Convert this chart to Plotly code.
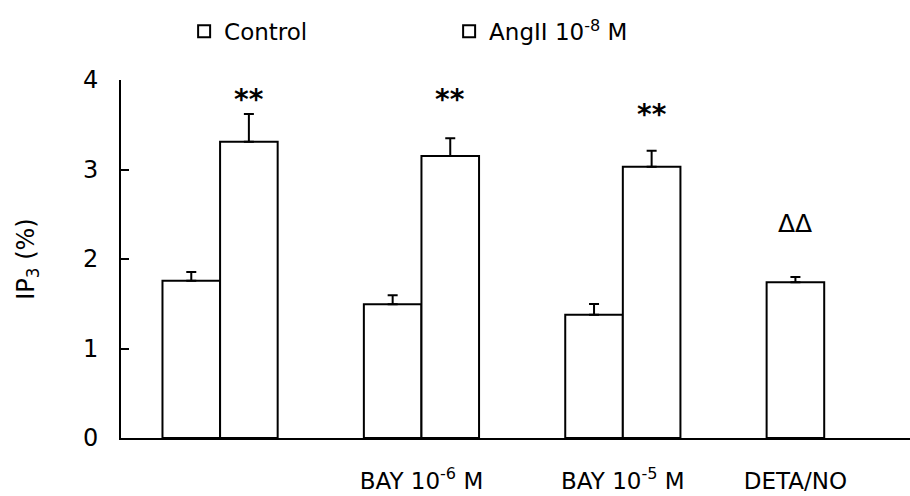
import plotly.graph_objects as go

# IP3 levels (% of total) with SEM, per treatment group
groups = ["", "BAY 10<sup>-6</sup> M", "BAY 10<sup>-5</sup> M", "DETA/NO"]
control_vals = [1.756, 1.495, 1.376]
control_err = [0.10, 0.10, 0.12]
angii_vals = [3.31, 3.15, 3.03]
angii_err = [0.31, 0.20, 0.18]
deta_vals = [1.74]
deta_err = [0.06]
sig_labels = ["<b>**</b>", "<b>**</b>", "<b>**</b>", "ΔΔ"]

# layout of the groups along the x axis
group_pos = [0.0, 1.0, 2.0, 2.857]
sig_y = [3.78, 3.78, 3.62, 2.40]
sig_size = [28, 28, 28, 25]
bar_w = 0.286

FONT = "DejaVu Sans"
line = dict(color="black", width=2)
err_style = dict(type="data", symmetric=False, color="black", thickness=2, width=5)

fig = go.Figure()
fig.add_trace(go.Bar(
    name="Control", x=group_pos[:3], y=control_vals,
    width=bar_w, offset=-bar_w,
    marker=dict(color="white", line=line),
    error_y=dict(array=control_err, arrayminus=[0] * 3, **err_style),
))
fig.add_trace(go.Bar(
    name="AngII 10<sup>-8</sup> M", x=group_pos[:3], y=angii_vals,
    width=bar_w, offset=0,
    marker=dict(color="white", line=line),
    error_y=dict(array=angii_err, arrayminus=[0] * 3, **err_style),
))
fig.add_trace(go.Bar(
    name="DETA/NO", x=group_pos[3:], y=deta_vals, showlegend=False,
    width=bar_w, offset=-bar_w / 2,
    marker=dict(color="white", line=line),
    error_y=dict(array=deta_err, arrayminus=[0], **err_style),
))

sig_x = [p + bar_w / 2 for p in group_pos[:3]] + [group_pos[3]]
for sx, sy, txt, fs in zip(sig_x, sig_y, sig_labels, sig_size):
    fig.add_annotation(x=sx, y=sy, text=txt, showarrow=False,
                       font=dict(family=FONT, size=fs, color="black"))

fig.update_layout(
    width=910, height=496,
    margin=dict(l=121, r=0, t=80, b=58, autoexpand=False),
    paper_bgcolor="white", plot_bgcolor="white",
    font=dict(family=FONT, size=24, color="black"),
    barmode="overlay",
    showlegend=True,
    legend=dict(orientation="h", x=0.08, y=0.98, xanchor="left", yanchor="top",
                yref="container", entrywidth=220, font=dict(size=23),
                bgcolor="rgba(0,0,0,0)"),
    xaxis=dict(range=[-0.492, 3.426], tickvals=group_pos, ticktext=groups,
               showline=True, linecolor="black", linewidth=2, ticks="",
               showgrid=False, zeroline=False, ticklabelstandoff=21,
               automargin=False, tickfont=dict(size=23)),
    yaxis=dict(range=[0, 4], tickvals=[0, 1, 2, 3, 4], showline=True,
               linecolor="black", linewidth=2, ticks="inside", ticklen=8,
               tickwidth=2, tickcolor="black", showgrid=False, zeroline=False,
               ticklabelstandoff=16, automargin=False, tickfont=dict(size=24),
               title=dict(text="IP<sub>3</sub> (%)", standoff=42,
                          font=dict(size=24))),
)

fig.write_html("out.html")
